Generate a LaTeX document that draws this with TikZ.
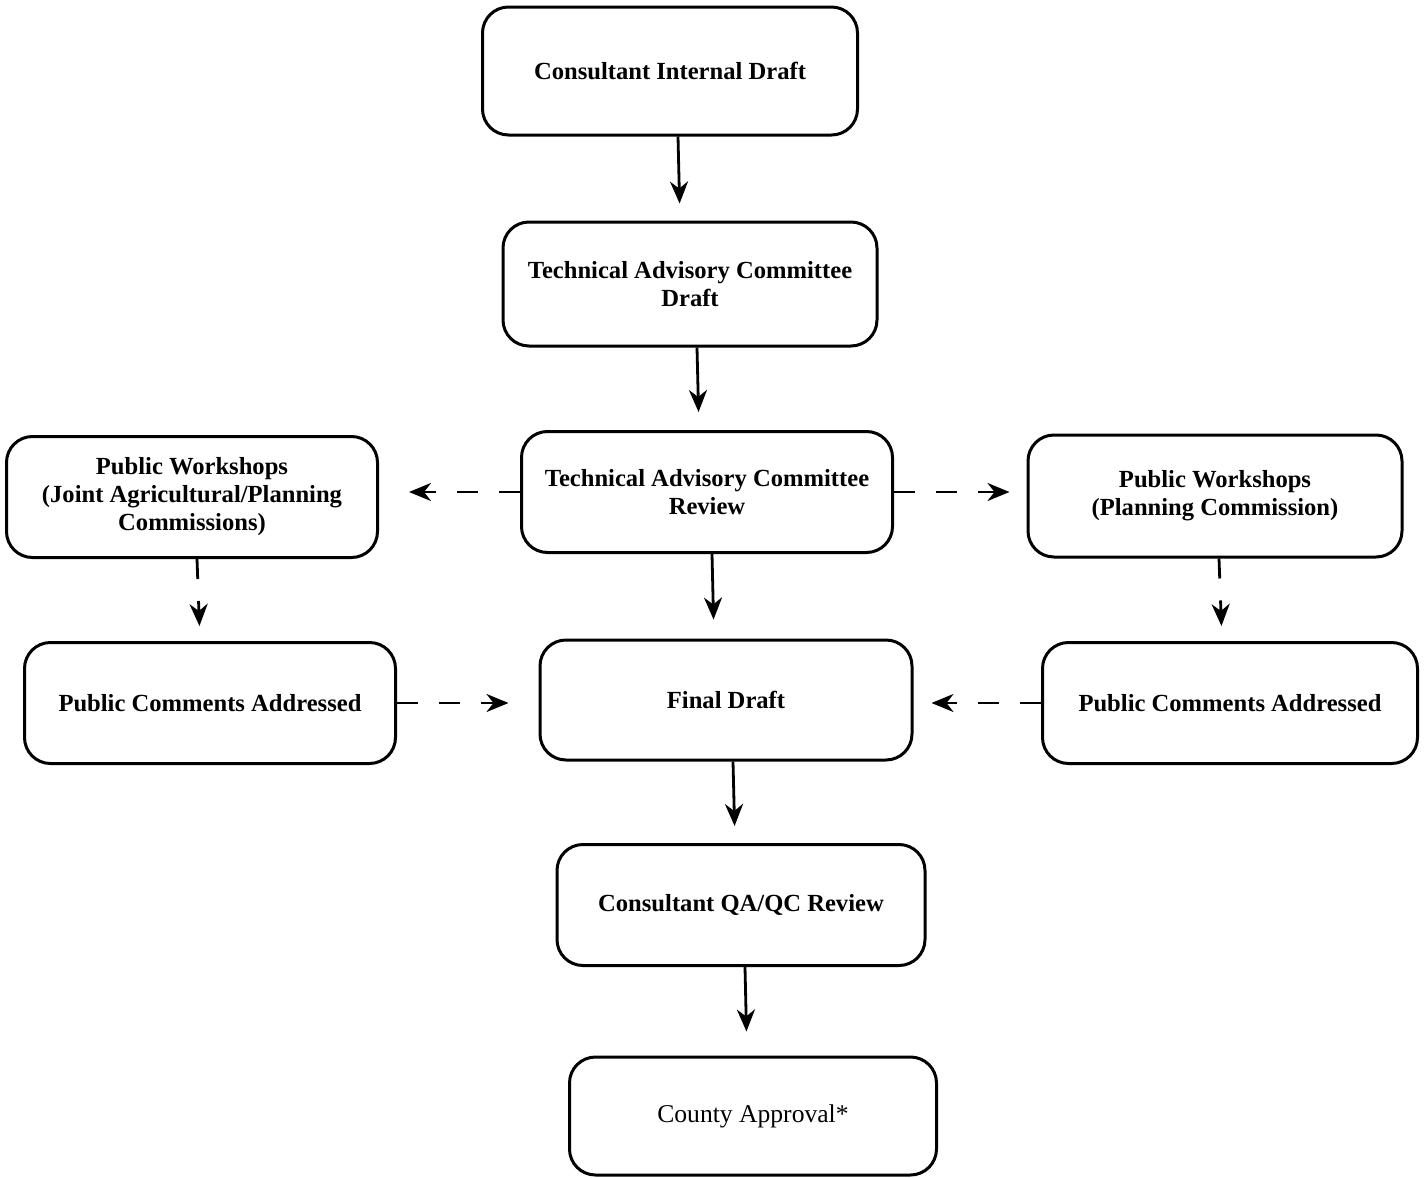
\documentclass[tikz,border=0pt]{standalone}
\usepackage{fontspec}
\setmainfont{Liberation Serif}
\usetikzlibrary{arrows.meta}
\begin{document}
\begin{tikzpicture}[x=0.5pt,y=-0.5pt,
  box/.style={draw, line width=1.5pt, rounded corners=13pt, align=center,
    font=\bfseries\fontsize{12.3}{14}\selectfont, inner sep=0pt},
  arr/.style={line width=1.4pt, -{Stealth[length=11pt,width=9pt,inset=3.5pt]}},
  darr/.style={arr, dash pattern=on 10.5pt off 10.5pt}]
\useasboundingbox (0,0) rectangle (1425,1178);
\fill[white] (0,0) rectangle (1425,1178);

\node[box, minimum width=187.5pt, minimum height=64pt] (b1) at (670,71) {Consultant Internal Draft};
\node[box, minimum width=187pt, minimum height=62pt] (b2) at (690,284) {Technical Advisory Committee\\Draft};
\node[box, minimum width=185.5pt, minimum height=60.5pt] (b3) at (707,492) {Technical Advisory Committee\\Review};
\node[box, minimum width=185.5pt, minimum height=60.5pt] (b4) at (192,497) {Public Workshops\\(Joint Agricultural/Planning\\Commissions)};
\node[box, minimum width=187pt, minimum height=61pt] (b5) at (1215,496) {Public Workshops\\(Planning Commission)};
\node[box, minimum width=185.5pt, minimum height=60.5pt] (b6) at (210,703) {Public Comments Addressed};
\node[box, minimum width=186pt, minimum height=60pt] (b7) at (726,700) {Final Draft};
\node[box, minimum width=187.5pt, minimum height=60.5pt] (b8) at (1230,703) {Public Comments Addressed};
\node[box, minimum width=184pt, minimum height=60.5pt] (b9) at (741,905) {Consultant QA/QC Review};
\node[box, minimum width=183.5pt, minimum height=59pt, font=\fontsize{12.8}{14}\selectfont] (b10) at (753,1116) {County Approval*};

\draw[arr, shorten >=8.5pt] ([xshift=4pt]b1.south) -- ([xshift=-5pt]b2.north);
\draw[arr, shorten >=9pt] ([xshift=3.5pt]b2.south) -- ([xshift=-4pt]b3.north);
\draw[arr, shorten >=9.5pt] ([xshift=2.5pt]b3.south) -- ([xshift=-6pt]b7.north);
\draw[arr, shorten >=8.5pt] ([xshift=3.5pt]b7.south) -- ([xshift=-3pt]b9.north);
\draw[arr, shorten >=12pt] ([xshift=2pt]b9.south) -- ([xshift=-3pt]b10.north);

\draw[darr, shorten >=15pt] (b3.west) -- (b4.east |- b3.west);
\draw[darr, shorten >=8.5pt] (b3.east) -- (b5.west |- b3.east);
\draw[darr, shorten >=15pt] (b6.east) -- (b7.west |- b6.east);
\draw[darr, shorten >=9pt] (b8.west) -- (b7.east |- b8.west);
\draw[arr, dash pattern=on 10pt off 11pt, shorten >=7.5pt] ([xshift=2.5pt]b4.south) -- ([xshift=-5pt]b6.north);
\draw[arr, dash pattern=on 10pt off 11pt, shorten >=7.5pt] ([xshift=2pt]b5.south) -- ([xshift=-4pt]b8.north);
\end{tikzpicture}
\end{document}
